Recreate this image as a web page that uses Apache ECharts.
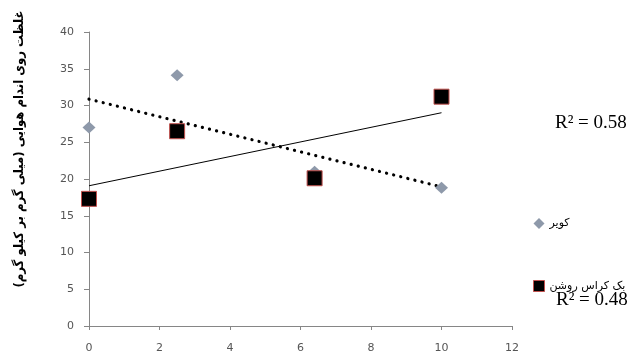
<!DOCTYPE html>
<html>
<head>
<meta charset="utf-8">
<script src="https://cdn.jsdelivr.net/npm/echarts@6/dist/echarts.min.js"></script>
<style>
  html, body { margin: 0; padding: 0; background: #fff; }
  #chart { width: 638px; height: 358px; }
</style>
</head>
<body>
<div id="chart"></div>
<script>
// Sampling positions (x) shared by both genotypes
const xValues = [0, 2.5, 6.4, 10];
// Shoot zinc concentration, mg/kg
const kavirValues = [27, 34.1, 21, 18.8];
const backcrossValues = [17.3, 26.5, 20.1, 31.2];
const seriesNames = ['کویر', 'بک کراس روشن'];
const yTitle = 'غلظت روی اندام هوایی (میلی گرم بر کیلو گرم)\u200F';

// Ordinary least squares fit with coefficient of determination
function linearFit(xs, ys) {
  const n = xs.length;
  const mx = xs.reduce((a, b) => a + b, 0) / n;
  const my = ys.reduce((a, b) => a + b, 0) / n;
  let sxx = 0, sxy = 0, syy = 0;
  for (let i = 0; i < n; i++) {
    sxx += (xs[i] - mx) ** 2;
    sxy += (xs[i] - mx) * (ys[i] - my);
    syy += (ys[i] - my) ** 2;
  }
  const slope = sxy / sxx;
  return { slope, intercept: my - slope * mx, r2: (sxy * sxy) / (sxx * syy) };
}

const pairs = (xs, ys) => xs.map((x, i) => [x, ys[i]]);
const xMin = Math.min(...xValues), xMax = Math.max(...xValues);
const fitLine = f => [[xMin, f.intercept + f.slope * xMin], [xMax, f.intercept + f.slope * xMax]];

const fitKavir = linearFit(xValues, kavirValues);
const fitBackcross = linearFit(xValues, backcrossValues);

const axisGray = '#868686';
const labelStyle = { color: '#555', fontSize: 11, fontFamily: 'DejaVu Sans' };

const chart = echarts.init(document.getElementById('chart'), null, { renderer: 'canvas' });
chart.setOption({
  animation: false,
  backgroundColor: '#fff',
  grid: { left: 89, right: 126, top: 32, bottom: 32 },
  xAxis: {
    type: 'value', min: 0, max: 12, interval: 2,
    axisLine: { lineStyle: { color: axisGray, width: 1 } },
    axisTick: { show: true, length: 4, lineStyle: { color: axisGray } },
    axisLabel: Object.assign({ margin: 17 }, labelStyle),
    splitLine: { show: false }
  },
  yAxis: {
    type: 'value', min: 0, max: 40, interval: 5,
    axisLine: { show: true, lineStyle: { color: axisGray, width: 1 } },
    axisTick: { show: true, length: 5, lineStyle: { color: axisGray } },
    axisLabel: Object.assign({ margin: 15 }, labelStyle),
    splitLine: { show: false }
  },
  legend: {
    orient: 'vertical',
    left: 528, top: 213,
    itemGap: 51,
    itemWidth: 11, itemHeight: 11,
    data: [
      { name: seriesNames[0], icon: 'diamond' },
      { name: seriesNames[1], icon: 'rect' }
    ],
    textStyle: { fontFamily: 'DejaVu Sans', fontSize: 11, color: '#000' },
    itemStyle: { borderWidth: 1 }
  },
  series: [
    {
      name: 'trend-kavir', type: 'line', data: fitLine(fitKavir),
      symbol: 'none', z: 1, silent: true,
      lineStyle: { color: '#000', width: 3.2, type: [0.1, 7.2], cap: 'round' }
    },
    {
      name: 'trend-backcross', type: 'line', data: fitLine(fitBackcross),
      symbol: 'none', z: 1, silent: true,
      lineStyle: { color: '#000', width: 1, type: 'solid' }
    },
    {
      name: seriesNames[0], type: 'scatter', data: pairs(xValues, kavirValues),
      symbol: 'diamond', symbolSize: [13, 12], z: 3,
      itemStyle: { color: '#8e99aa', opacity: 1 }
    },
    {
      name: seriesNames[1], type: 'scatter', data: pairs(xValues, backcrossValues),
      symbol: 'rect', symbolSize: 15, z: 4,
      itemStyle: { color: '#000', borderColor: '#c0504d', borderWidth: 1, opacity: 1 }
    }
  ],
  graphic: [
    {
      type: 'text', x: 20, y: 149, rotation: Math.PI / 2,
      style: {
        text: yTitle, align: 'center', verticalAlign: 'middle',
        font: 'bold 13px "DejaVu Sans Condensed", "DejaVu Sans"', fill: '#000'
      }
    },
    {
      type: 'text', x: 555, y: 123,
      style: {
        text: 'R\u00B2 = ' + fitKavir.r2.toFixed(2), align: 'left', verticalAlign: 'middle',
        font: '19px "Liberation Serif"', fill: '#000'
      }
    },
    {
      type: 'text', x: 556, y: 300,
      style: {
        text: 'R\u00B2 = ' + fitBackcross.r2.toFixed(2), align: 'left', verticalAlign: 'middle',
        font: '19px "Liberation Serif"', fill: '#000'
      }
    }
  ]
});
</script>
</body>
</html>
